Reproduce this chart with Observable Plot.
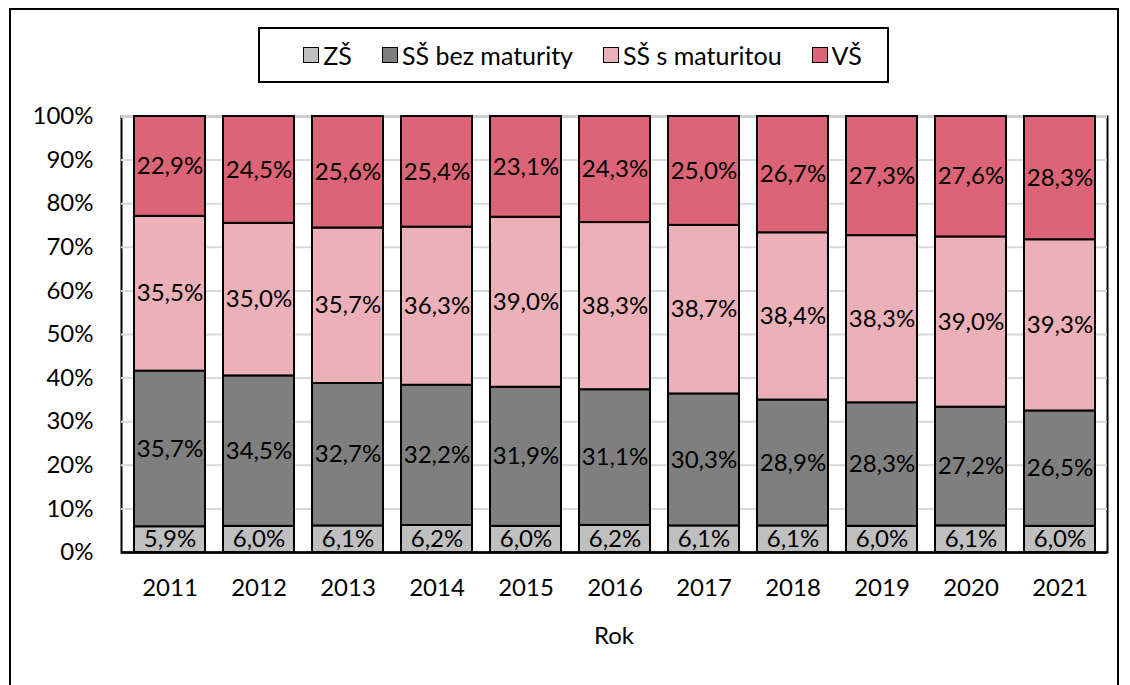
<!DOCTYPE html>
<html>
<head>
<meta charset="utf-8">
<script src="https://cdn.jsdelivr.net/npm/d3@7"></script>
<script src="https://cdn.jsdelivr.net/npm/@observablehq/plot@0.6"></script>
<style>
  html, body { margin: 0; padding: 0; background: #fff; overflow: hidden; }
  body { width: 1130px; height: 685px; position: relative; font-family: Lato, "Open Sans", sans-serif; }
  #outer { position: absolute; left: 9px; top: 8px; width: 1110px; height: 720px; border: 2px solid #000; box-sizing: border-box; }
  #legend { position: absolute; left: 258px; top: 27px; width: 631px; height: 56px; border: 2px solid #000; box-sizing: border-box;
            display: flex; align-items: center; justify-content: center; gap: 30px; font-size: 25px; color: #000; background: #fff; padding-left: 18px; }
  #legend .item { display: flex; align-items: center; gap: 4px; white-space: nowrap; }
  #legend .sw { width: 14px; height: 14px; border: 1.5px solid #000; box-sizing: content-box; }
  #chart { position: absolute; left: 0; top: 90px; }
  #xlabel { position: absolute; left: 0; width: 1228px; top: 620px; text-align: center; font-size: 24px; line-height: 30px; }
</style>
</head>
<body>
<div id="outer"></div>
<div id="legend"></div>
<div id="chart"></div>
<div id="xlabel">Rok</div>
<script>
const years = ["2011","2012","2013","2014","2015","2016","2017","2018","2019","2020","2021"];
const seriesNames = ["ZŠ", "SŠ bez maturity", "SŠ s maturitou", "VŠ"];
const seriesColors = ["#bfbfbf", "#7f7f7f", "#ebb0b8", "#db6577"];
const zs      = [5.9, 6.0, 6.1, 6.2, 6.0, 6.2, 6.1, 6.1, 6.0, 6.1, 6.0];
const ssBez   = [35.7, 34.5, 32.7, 32.2, 31.9, 31.1, 30.3, 28.9, 28.3, 27.2, 26.5];
const ssMat   = [35.5, 35.0, 35.7, 36.3, 39.0, 38.3, 38.7, 38.4, 38.3, 39.0, 39.3];
const vs      = [22.9, 24.5, 25.6, 25.4, 23.1, 24.3, 25.0, 26.7, 27.3, 27.6, 28.3];
const yTicks  = [0, 0.1, 0.2, 0.3, 0.4, 0.5, 0.6, 0.7, 0.8, 0.9, 1];

const seriesValues = [zs, ssBez, ssMat, vs];
const data = [];
seriesNames.forEach((s, si) => {
  years.forEach((y, i) => data.push({year: y, series: s, value: seriesValues[si][i]}));
});
const fmt = v => v.toFixed(1).replace(".", ",") + "%";

// legend
const legend = document.getElementById("legend");
seriesNames.forEach((s, i) => {
  const item = document.createElement("div");
  item.className = "item";
  const sw = document.createElement("span");
  sw.className = "sw";
  sw.style.background = seriesColors[i];
  const t = document.createElement("span");
  t.textContent = s;
  item.appendChild(sw); item.appendChild(t);
  legend.appendChild(item);
});

const stackOpts = {x: "year", y: "value", z: "series", order: seriesNames, offset: "normalize"};

const plot = Plot.plot({
  width: 1130,
  height: 595,
  marginLeft: 121,
  marginRight: 23,
  marginTop: 26,
  marginBottom: 133,
  style: {fontFamily: "Lato, 'Open Sans', sans-serif", fontSize: "24px", color: "#000", background: "transparent"},
  x: {domain: years, paddingInner: 0.207, paddingOuter: 0.11, label: null},
  y: {domain: [0, 1], label: null},
  color: {domain: seriesNames, range: seriesColors},
  marks: [
    Plot.frame({stroke: "#000", strokeWidth: 2}),
    Plot.gridY(yTicks.filter(d => d > 0 && d < 1), {stroke: "#d9d9d9", strokeOpacity: 1, strokeWidth: 2}),
    Plot.gridY([1], {stroke: "#cfcfcf", strokeOpacity: 1, strokeWidth: 3}),
    Plot.barY(data, Plot.stackY({...stackOpts, fill: "series", stroke: "#000", strokeWidth: 2})),
    Plot.text(data, Plot.stackY({...stackOpts, text: d => fmt(d.value), fill: "#000", fontSize: 24})),
    Plot.ruleY([0], {stroke: "#000", strokeWidth: 2.5}),
    Plot.axisY(yTicks, {tickSize: 0, tickPadding: 28, tickFormat: d => Math.round(d * 100) + "%", fontSize: 24, label: null}),
    Plot.axisX({tickSize: 0, tickPadding: 26, fontSize: 24, label: null})
  ]
});
document.getElementById("chart").appendChild(plot);
</script>
</body>
</html>
